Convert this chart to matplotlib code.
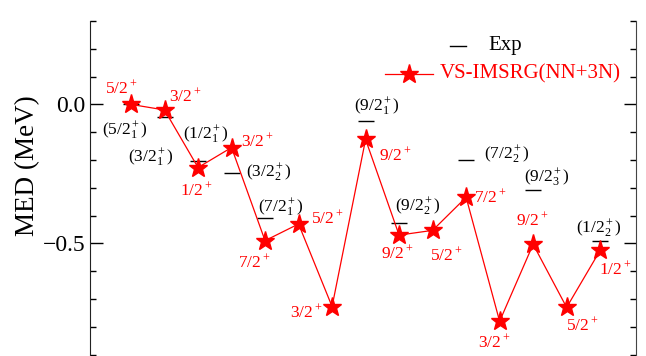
import numpy as np
import matplotlib
matplotlib.use('Agg')
import matplotlib.pyplot as plt
from matplotlib.ticker import MultipleLocator

plt.rcParams['font.family'] = ['Liberation Serif', 'DejaVu Serif']
plt.rcParams['mathtext.fontset'] = 'custom'
plt.rcParams['mathtext.rm'] = 'Liberation Serif'
plt.rcParams['mathtext.it'] = 'Liberation Serif:italic'

# VS-IMSRG(NN+3N) mirror energy differences, one point per level
theo_x = np.arange(1, 16)
theo_med = [0.0, -0.02, -0.227, -0.155, -0.49, -0.43, -0.727, -0.126,
            -0.47, -0.453, -0.334, -0.78, -0.503, -0.73, -0.525]
theo_lab = ['5/2', '3/2', '1/2', '3/2', '7/2', '5/2', '3/2', '9/2',
            '9/2', '5/2', '7/2', '3/2', '9/2', '5/2', '1/2']

# experimental values (only where known)
exp_x = [1, 2, 3, 4, 5, 8, 9, 11, 13, 15]
exp_med = [0.0, -0.047, -0.205, -0.245, -0.41, -0.058, -0.428, -0.2, -0.306, -0.493]
exp_lab = ['5/2', '3/2', '1/2', '3/2', '7/2', '9/2', '9/2', '7/2', '9/2', '1/2']
exp_idx = ['1', '1', '1', '2', '1', '1', '2', '2', '3', '2']

# label offsets in pixels
theo_off = [(-10, 16), (21, 14), (-2, -23), (26, 6), (-11, -22), (29, 6), (-26, -6),
            (30, -16), (-2, -18), (14, -25), (24, 0), (-5, -21), (-1, 24), (16, -18), (15, -19)]
exp_off = [(-6, -26), (-14, -40), (8, 27), (37, 0), (16, 11), (11, 14), (19, 17),
           (41, 5), (14, 12), (-1, 13)]

fig = plt.figure(figsize=(6.46, 3.56), dpi=100)
ax = fig.add_axes([90/646, -2/356, 546/646, 337/356])

ax.plot(exp_x, exp_med, ls='none', marker='_', ms=11, mew=1.0, color='black', zorder=2)
ax.plot(theo_x, theo_med, color='red', lw=0.9, marker='*', ms=14, mec='red', mfc='red', zorder=3)

for x, y, s, off in zip(theo_x, theo_med, theo_lab, theo_off):
    ax.annotate(r'$\mathregular{' + s + '^+}$', (x, y), xytext=off, textcoords='offset pixels',
                ha='center', va='center', color='red', fontsize=12.5)
for x, y, s, i, off in zip(exp_x, exp_med, exp_lab, exp_idx, exp_off):
    ax.annotate(r'$\mathregular{(' + s + '^+_' + i + ')}$', (x, y), xytext=off,
                textcoords='offset pixels', ha='center', va='center', color='black', fontsize=12.5)

# legend
ax.plot([0.659, 0.689], [0.926, 0.926], color='black', lw=1.0, transform=ax.transAxes, clip_on=False)
ax.text(0.729, 0.926, 'Exp', transform=ax.transAxes, fontsize=15, va='center', ha='left')
ax.plot([0.540, 0.628], [0.843, 0.843], color='red', lw=0.9, transform=ax.transAxes, clip_on=False)
ax.plot([0.584], [0.843], marker='*', ms=14, color='red', transform=ax.transAxes, clip_on=False)
ax.text(0.641, 0.843, 'VS-IMSRG(NN+3N)', transform=ax.transAxes, fontsize=15, color='red',
        va='center', ha='left')

ax.set_xlim(-0.224, 16.07)
ax.set_ylim(-0.912, 0.3)
ax.set_xticks([])
ax.yaxis.set_major_locator(MultipleLocator(0.5))
ax.yaxis.set_minor_locator(MultipleLocator(0.1))
ax.yaxis.set_major_formatter(plt.FuncFormatter(lambda v, p: ('%.1f' % v).replace('-', '\u2212')))
ax.tick_params(axis='y', which='both', direction='in', right=True, labelsize=17, width=1.0)
ax.tick_params(axis='y', which='major', length=9)
ax.tick_params(axis='y', which='minor', length=4.5)
ax.spines['top'].set_visible(False)
ax.spines['bottom'].set_visible(False)
ax.spines['left'].set_color('#222222')
ax.spines['right'].set_color('#444444')
ax.set_ylabel('MED (MeV)', fontsize=19.5)
ax.yaxis.set_label_coords(-0.092, 0.57)

fig.savefig('out.png', dpi=100)
